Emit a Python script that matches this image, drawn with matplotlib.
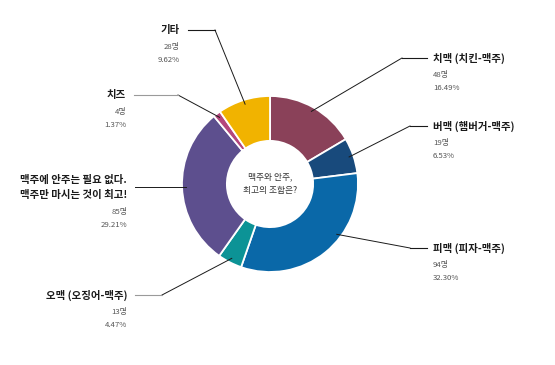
"""
Donut chart: 맥주와 안주, 최고의 조합은?
"""
import numpy as np
import matplotlib
matplotlib.use("Agg")
import matplotlib.pyplot as plt

plt.rcParams['font.family'] = ['Noto Sans CJK KR', 'DejaVu Sans']

# data
labels = ['치맥 (치킨-맥주)', '버맥 (햄버거-맥주)', '피맥 (피자-맥주)', '오맥 (오징어-맥주)',
          '맥주에 안주는 필요 없다.\n맥주만 마시는 것이 최고!', '치즈', '기타']
counts = [48, 19, 94, 13, 85, 4, 28]
percents = ['16.49%', '6.53%', '32.30%', '4.47%', '29.21%', '1.37%', '9.62%']
colors = ['#8a4159', '#184a7c', '#0a68a8', '#0c9396', '#5d4f8e', '#b4457c', '#f1b300']

W, H = 555, 365
def Y(y):
    # pixel row -> data y
    return H - y

fig = plt.figure(figsize=(W / 100, H / 100), dpi=100)
ax = fig.add_axes([0, 0, 1, 1])

cx, cy, R = 270, Y(184), 88
wedges, _ = ax.pie(counts, colors=colors, startangle=90, counterclock=False,
                   center=(cx, cy), radius=R,
                   wedgeprops=dict(width=R * 0.51, edgecolor='white', linewidth=1.3))
ax.set_xlim(0, W)
ax.set_ylim(0, H)
ax.set_aspect('equal')
ax.axis('off')

# center text
ax.text(cx, Y(177), '맥주와 안주,', ha='center', va='center', fontsize=6.3, color='#333')
ax.text(cx, Y(190), '최고의 조합은?', ha='center', va='center', fontsize=6.3, color='#333')

# label layout: (elbow x or None, row y, line end x, side)
layout = [
    (402, 58, 427, 'r'),
    (410, 126, 427, 'r'),
    (410, 248, 427, 'r'),
    (162, 295, 135, 'l'),
    (None, 180, 135, 'l'),
    (178, 95, 134, 'l'),
    (215, 30, 188, 'l'),
]
angle_override = {2: -37}
gray_tail = {3, 5}

for i, w in enumerate(wedges):
    ang = angle_override.get(i, (w.theta1 + w.theta2) / 2)
    px = cx + 0.95 * R * np.cos(np.radians(ang))
    py = cy + 0.95 * R * np.sin(np.radians(ang))
    ex, ey, lx, side = layout[i]
    if ex is None:
        ax.plot([px, lx], [py, py], color='#1a1a1a', lw=0.7)
    else:
        ax.plot([px, ex], [py, Y(ey)], color='#1a1a1a', lw=0.7)
        ax.plot([ex, lx], [Y(ey), Y(ey)], lw=0.8,
                color='#9a9a9a' if i in gray_tail else '#1a1a1a')

    if side == 'r':
        tx, ha = lx + 6, 'left'
    else:
        tx, ha = lx - 8, 'right'
    row = ey
    for line in labels[i].split('\n'):
        ax.text(tx, Y(row), line, ha=ha, va='center', fontsize=7.5,
                fontweight='bold', color='#1a1a1a')
        row += 15
    row += 2
    ax.text(tx, Y(row), f'{counts[i]}명', ha=ha, va='center', fontsize=5.6, color='#555')
    ax.text(tx, Y(row + 13), percents[i], ha=ha, va='center', fontsize=5.6, color='#555')

fig.savefig('out.png', dpi=100)
